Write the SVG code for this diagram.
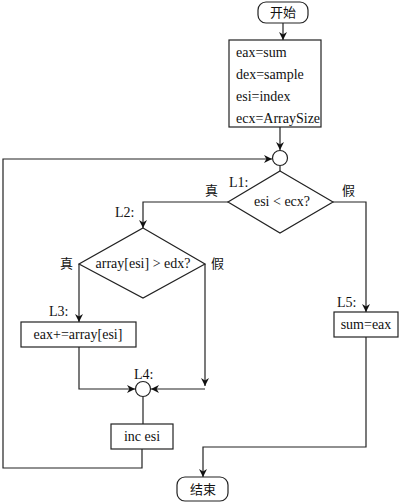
<svg xmlns="http://www.w3.org/2000/svg" width="400" height="503" viewBox="0 0 400 503">
<defs>
<marker id="ah" viewBox="0 0 10 10" refX="10" refY="5" markerWidth="8" markerHeight="8" orient="auto" markerUnits="userSpaceOnUse">
<path d="M0,0 L10,5 L0,10 L3,5 Z" fill="#111"/>
</marker>
</defs>
<style>
.s{fill:#fff;stroke:#222;stroke-width:1.2}
.c{fill:none;stroke:#222;stroke-width:1.2}
.t{font-family:"Liberation Serif",serif;font-size:14px;fill:#111}
.z{font-family:"Noto Sans CJK SC",sans-serif;font-size:13px;fill:#111}
.m{text-anchor:middle}
</style>
<rect width="400" height="503" fill="#fff"/>
<g id="connectors">
<path class="c" d="M283,22 V40" marker-end="url(#ah)"/>
<path class="c" d="M280,127 V150" marker-end="url(#ah)"/>
<path class="c" d="M280,166 V171"/>
<path class="c" d="M228,202 H143 V228" marker-end="url(#ah)"/>
<path class="c" d="M333,202 H366 V312" marker-end="url(#ah)"/>
<path class="c" d="M79,264 V322" marker-end="url(#ah)"/>
<path class="c" d="M205,264 V386" marker-end="url(#ah)"/>
<path class="c" d="M79,347 V389 H135" marker-end="url(#ah)"/>
<path class="c" d="M205,389 H151" marker-end="url(#ah)"/>
<path class="c" d="M143,397 V424"/>
<path class="c" d="M142,449 V468 H3 V159 H272" marker-end="url(#ah)"/>
<path class="c" d="M366,337 V447 H203 V477" marker-end="url(#ah)"/>
</g>
<g id="start">
<rect class="s" x="258" y="2" width="50" height="21" rx="8"/>
<text class="z m" x="283" y="17">开始</text>
</g>
<g id="init">
<rect class="s" x="229" y="40" width="92" height="87"/>
<text class="t" x="236" y="57">eax=sum</text>
<text class="t" x="236" y="79">dex=sample</text>
<text class="t" x="236" y="101">esi=index</text>
<text class="t" x="236" y="123">ecx=ArraySize</text>
</g>
<g id="join1">
<circle class="s" cx="280" cy="158" r="7.5"/>
</g>
<g id="L1">
<polygon class="s" points="280,171 333,202 280,233 228,202"/>
<text class="t m" x="282" y="206">esi &lt; ecx?</text>
<text class="t" x="229" y="187">L1:</text>
<text class="z" x="205" y="195">真</text>
<text class="z" x="342" y="195">假</text>
</g>
<g id="L2">
<polygon class="s" points="143,228 205,264 143,298 79,264"/>
<text class="t m" x="143" y="268">array[esi] &gt; edx?</text>
<text class="t" x="115" y="217">L2:</text>
<text class="z" x="60" y="268">真</text>
<text class="z" x="211" y="268">假</text>
</g>
<g id="L3">
<rect class="s" x="21" y="322" width="115" height="25"/>
<text class="t m" x="78" y="339">eax+=array[esi]</text>
<text class="t" x="49" y="316">L3:</text>
</g>
<g id="L4">
<circle class="s" cx="143" cy="389" r="7.5"/>
<text class="t" x="134" y="379">L4:</text>
</g>
<g id="inc">
<rect class="s" x="111" y="424" width="62" height="25"/>
<text class="t m" x="142" y="441">inc esi</text>
</g>
<g id="L5">
<rect class="s" x="334" y="312" width="64" height="25"/>
<text class="t m" x="366" y="329">sum=eax</text>
<text class="t" x="337" y="307">L5:</text>
</g>
<g id="end">
<rect class="s" x="177" y="477" width="51" height="24" rx="8"/>
<text class="z m" x="203" y="494">结束</text>
</g>
</svg>
